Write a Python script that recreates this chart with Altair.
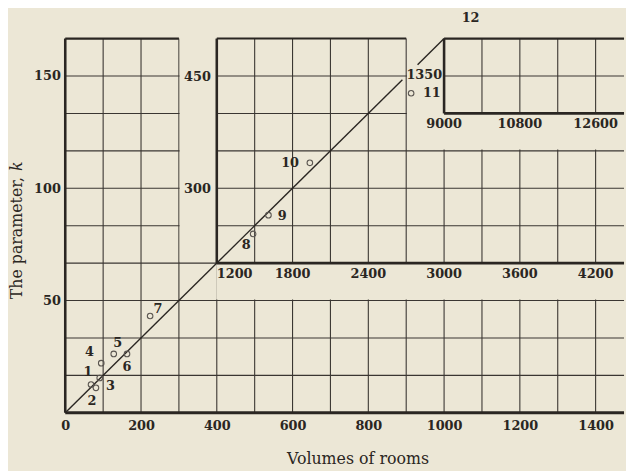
import altair as alt
import pandas as pd
import numpy as np

# ---------------- data ----------------
room_ids = ["1", "2", "3", "4", "5", "6", "7", "8", "9", "10", "11"]
volumes = [68, 81, 91, 95, 128, 163, 224, 1488, 1609, 1937, 2739]
k_values = [12.6, 11.1, 15.5, 22.1, 26.2, 26.2, 43.1, 239, 264, 334, 427]
panels = ["main"] * 7 + ["inset1"] * 4

# room 12 lies outside the drawn area: only its number is shown
extra_ids = ["12"]
extra_volumes = [9630]
extra_k = [1583]
extra_panels = ["inset2"]

main_x_ticks = [0, 200, 400, 600, 800, 1000, 1200, 1400]
main_y_ticks = [50, 100, 150]
inset1_x_ticks = [1200, 1800, 2400, 3000, 3600, 4200]
inset1_y_ticks = [300, 450]
inset2_x_ticks = [9000, 10800, 12600]
inset2_y_ticks = [1350]

# fitted relation k = V / 6, drawn in two pieces (gap at the "1350" label)
line_pieces = [(0, 890), (930, 1000)]
K_RATIO = 6

# ---------------- styling / geometry ----------------
SCALE = {"main": 1, "inset1": 3, "inset2": 9}
INSET1_ORIGIN = (1200, 200)
INSET2_ORIGIN = (9000, 1200)
BG = "#ece7d6"
INK = "#2a2622"
GRID = "#3a3632"
FONT = "DejaVu Serif"
W, H = 566, 379
X_MAX = 1475
Y_MAX = 500 / 3
PXX = W / X_MAX
PXY = H / Y_MAX

LABEL_OFFSET = {"1": (-3, -13), "2": (-4, 13), "3": (11, 8), "4": (-12, -11),
                "5": (4, -11), "6": (0, 13), "7": (8, -7), "8": (-7, 11),
                "9": (14, 1), "10": (-20, 0), "11": (21, 0), "12": (0, 0)}

xs = alt.Scale(domain=[0, X_MAX], nice=False, zero=False)
ys = alt.Scale(domain=[0, Y_MAX], nice=False, zero=False)

x_axis = alt.Axis(
    values=main_x_ticks, grid=False, domain=False, ticks=False, labelFlush=False,
    labelFont=FONT, labelFontWeight="bold", labelFontSize=13, labelColor=INK,
    labelPadding=7, format="d", title="Volumes of rooms", titleFont=FONT,
    titleFontWeight="normal", titleFontSize=16, titleColor=INK, titlePadding=18,
    titleX=296, titleAlign="center")
y_axis = alt.Axis(
    values=main_y_ticks, grid=False, domain=False, ticks=False, labelFlush=False,
    labelFont=FONT, labelFontWeight="bold", labelFontSize=13, labelColor=INK,
    labelPadding=5, format="d", title="")

i1x = INSET1_ORIGIN[0] / SCALE["inset1"]
i1y = INSET1_ORIGIN[1] / SCALE["inset1"]
i2x = INSET2_ORIGIN[0] / SCALE["inset2"]
i2y = INSET2_ORIGIN[1] / SCALE["inset2"]

# grid (thin) lines of the main chart
grid = []
for v in range(100, 1500, 100):
    grid.append(dict(x=v, x2=v, y=0, y2=Y_MAX))
for i in range(1, 10):
    h = i * Y_MAX / 10
    grid.append(dict(x=0, x2=X_MAX, y=h, y2=h))
grid_df = pd.DataFrame(grid)

# blank areas (label zones of the insets)
blank_df = pd.DataFrame([
    dict(x=302, x2=i1x - 0.5, y=i1y + 0.6, y2=Y_MAX + 1),          # inset1 y-label zone
    dict(x=i1x - 1.5, x2=X_MAX, y=50.4, y2=i1y - 0.4),            # inset1 x-label zone
    dict(x=902, x2=X_MAX, y=i1y + 50 + 0.6, y2=Y_MAX + 1),        # inset2 area
])

# inset2 thin grid
g2 = []
for v in range(int(i2x) + 100, 1500, 100):
    g2.append(dict(x=v, x2=v, y=i2y, y2=Y_MAX))
g2.append(dict(x=i2x, x2=X_MAX, y=inset2_y_ticks[0] / 9, y2=inset2_y_ticks[0] / 9))
g2_df = pd.DataFrame(g2)

# thick borders
borders_df = pd.DataFrame([
    dict(x=0, x2=0, y=0, y2=Y_MAX, w=2.6),
    dict(x=0, x2=X_MAX, y=0, y2=0, w=3.0),
    dict(x=0, x2=300, y=Y_MAX, y2=Y_MAX, w=2.2),
    dict(x=i1x, x2=i1x, y=i1y, y2=Y_MAX, w=2.6),
    dict(x=i1x, x2=X_MAX, y=i1y, y2=i1y, w=2.8),
    dict(x=i1x, x2=900, y=Y_MAX, y2=Y_MAX, w=2.0),
    dict(x=i2x, x2=i2x, y=i2y, y2=Y_MAX, w=2.6),
    dict(x=i2x, x2=X_MAX, y=i2y, y2=i2y, w=2.8),
    dict(x=i2x, x2=X_MAX, y=Y_MAX, y2=Y_MAX, w=2.2),
])

line_df = pd.DataFrame([dict(x=a, x2=b, y=a / K_RATIO, y2=b / K_RATIO) for a, b in line_pieces])

pts = pd.DataFrame(dict(id=room_ids, V=volumes, k=k_values, panel=panels))
pts["x"] = pts["V"] / pts["panel"].map(SCALE)
pts["y"] = pts["k"] / pts["panel"].map(SCALE)

labs = pd.concat([pts[["id", "V", "k", "panel"]],
                  pd.DataFrame(dict(id=extra_ids, V=extra_volumes, k=extra_k, panel=extra_panels))],
                 ignore_index=True)
labs["x"] = labs["V"] / labs["panel"].map(SCALE) + labs["id"].map(lambda s: LABEL_OFFSET[s][0]) / PXX
labs["y"] = labs["k"] / labs["panel"].map(SCALE) - labs["id"].map(lambda s: LABEL_OFFSET[s][1]) / PXY

i1x_df = pd.DataFrame(dict(label=[str(v) for v in inset1_x_ticks],
                           x=[v / 3 for v in inset1_x_ticks], y=i1y))
i1y_df = pd.DataFrame(dict(label=[str(v) for v in inset1_y_ticks],
                           x=i1x, y=[v / 3 for v in inset1_y_ticks]))
i2x_df = pd.DataFrame(dict(label=[str(v) for v in inset2_x_ticks],
                           x=[v / 9 for v in inset2_x_ticks], y=i2y))
i2y_df = pd.DataFrame(dict(label=[str(v) for v in inset2_y_ticks],
                           x=i2x, y=[v / 9 for v in inset2_y_ticks]))

X = lambda f="x": alt.X(f"{f}:Q", scale=xs, axis=x_axis)
Y = lambda f="y": alt.Y(f"{f}:Q", scale=ys, axis=y_axis)

base = alt.Chart(grid_df).mark_rule(color=GRID, strokeWidth=1.1).encode(
    x=X(), x2="x2:Q", y=Y(), y2="y2:Q")
blank = alt.Chart(blank_df).mark_rect(color=BG).encode(x=X(), x2="x2:Q", y=Y(), y2="y2:Q")
grid2 = alt.Chart(g2_df).mark_rule(color=GRID, strokeWidth=1.1).encode(x=X(), x2="x2:Q", y=Y(), y2="y2:Q")
borders = alt.Chart(borders_df).mark_rule(color=INK).encode(
    x=X(), x2="x2:Q", y=Y(), y2="y2:Q", strokeWidth=alt.StrokeWidth("w:Q", scale=None))
diag = alt.Chart(line_df).mark_rule(color=INK, strokeWidth=1.4).encode(x=X(), x2="x2:Q", y=Y(), y2="y2:Q")
points = alt.Chart(pts).mark_point(shape="circle", filled=False, size=32, color="#5a5550",
                                   strokeWidth=1.1, opacity=1).encode(x=X(), y=Y())

tstyle = dict(font=FONT, fontWeight="bold", fontSize=13, color=INK)
pt_labels = alt.Chart(labs).mark_text(baseline="middle", align="center", **tstyle).encode(
    x=X(), y=Y(), text="id:N")
i1x_first = alt.Chart(i1x_df.iloc[:1]).mark_text(baseline="middle", align="left", dy=11, **tstyle).encode(
    x=X(), y=Y(), text="label:N")
i1x_rest = alt.Chart(i1x_df.iloc[1:]).mark_text(baseline="middle", align="center", dy=11, **tstyle).encode(
    x=X(), y=Y(), text="label:N")
i1y_t = alt.Chart(i1y_df).mark_text(baseline="middle", align="right", dx=-6, dy=1, **tstyle).encode(
    x=X(), y=Y(), text="label:N")
i2x_t = alt.Chart(i2x_df).mark_text(baseline="middle", align="center", dy=11, **tstyle).encode(
    x=X(), y=Y(), text="label:N")
i2y_t = alt.Chart(i2y_df).mark_text(baseline="middle", align="right", dx=-2, dy=-1, **tstyle).encode(
    x=X(), y=Y(), text="label:N")

title_df = pd.DataFrame(dict(t=["The parameter, "], k=["k"]))
ytitle = alt.Chart(title_df).mark_text(angle=270, align="left", baseline="middle", font=FONT,
                                       fontSize=16, color=INK).encode(
    x=alt.value(-49), y=alt.value(264), text="t:N")
ytitle_k = alt.Chart(title_df).mark_text(angle=270, align="left", baseline="middle", font=FONT,
                                         fontSize=16, fontStyle="italic", color=INK).encode(
    x=alt.value(-49), y=alt.value(134), text="k:N")

chart = alt.layer(base, blank, grid2, borders, diag, points, pt_labels,
                  i1x_first, i1x_rest, i1y_t, i2x_t, i2y_t, ytitle, ytitle_k).properties(
    width=W, height=H, background=BG,
    padding={"left": 58, "top": 28, "right": 2, "bottom": 56},
    autosize=alt.AutoSizeParams(type="none"),
).configure_view(stroke=None)

chart.save("out.html", embed_options={"renderer": "svg", "actions": False})
